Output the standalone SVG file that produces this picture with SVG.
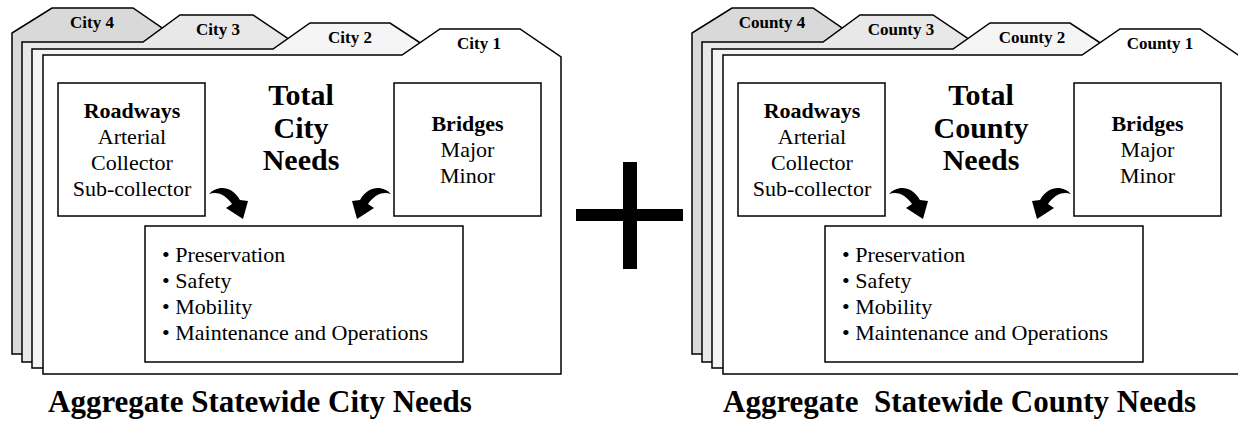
<svg xmlns="http://www.w3.org/2000/svg" width="1238" height="421" viewBox="0 0 1238 421">
  <defs>
    <style>
      .fold{stroke:#000;stroke-width:1.5;stroke-linejoin:miter}
      .f4{fill:#d9d9d9}
      .f3{fill:#e8e8e8}
      .f2{fill:#f5f5f5}
      .f1{fill:#ffffff}
      .box{fill:#fff;stroke:#000;stroke-width:1.5}
      .arrow{fill:#000}
      .plus{fill:#000}
      text{font-family:"Liberation Serif","Times New Roman",serif;fill:#000}
      .tab{font-size:17px;font-weight:bold;text-anchor:middle}
      .title{font-size:30px;font-weight:bold;text-anchor:middle}
      .head{font-size:22px;font-weight:bold;text-anchor:middle}
      .item{font-size:22px;text-anchor:middle}
      .list{font-size:22px}
      .caption{font-size:31px;font-weight:bold}
    </style>
    <!-- curved block arrows, drawn once and placed with <use> -->
    <path id="arrow-right-down" class="arrow" d="M209,194 C216,186 231,184 240,200 L248,201 L243,219 L226,208 L232,204 C226,196 219,191 209,194 Z"/>
    <path id="arrow-left-down" class="arrow" d="M391,194 C384,186 369,184 360,200 L352,201 L357,219 L374,208 L368,204 C374,196 381,191 391,194 Z"/>
  </defs>

  <rect width="1238" height="421" fill="#fff"/>

  <!-- ===== City stack ===== -->
  <g id="city-folder-4">
    <polygon class="fold f4" points="12,354 12,33 52,8 133,8 165,30 165,100 540,100 540,354"/>
    <text class="tab" x="92" y="28">City 4</text>
  </g>
  <g id="city-folder-3">
    <polygon class="fold f3" points="22,362 22,42 143,42 180,15 253,15 290,40 290,100 530,100 530,362"/>
    <text class="tab" x="218" y="35">City 3</text>
  </g>
  <g id="city-folder-2">
    <polygon class="fold f2" points="32,368 32,49 273,49 310,23 390,23 425,46 425,100 550,100 550,368"/>
    <text class="tab" x="350" y="43">City 2</text>
  </g>
  <g id="city-folder-1">
    <polygon class="fold f1" points="43,374 43,55 402,55 440,29 520,29 561,57 561,374"/>
    <text class="tab" x="479" y="49">City 1</text>
  </g>
  <g id="city-title">
    <text class="title" x="301" y="105">Total</text>
    <text class="title" x="301" y="137.5">City</text>
    <text class="title" x="301" y="170">Needs</text>
  </g>
  <g id="city-roadways">
    <rect class="box" x="58" y="83" width="147" height="133"/>
    <text class="head" x="132" y="118">Roadways</text>
    <text class="item" x="132" y="144">Arterial</text>
    <text class="item" x="132" y="170">Collector</text>
    <text class="item" x="132" y="196">Sub-collector</text>
  </g>
  <g id="city-bridges">
    <rect class="box" x="394" y="83" width="147" height="133"/>
    <text class="head" x="467.5" y="131">Bridges</text>
    <text class="item" x="467.5" y="157">Major</text>
    <text class="item" x="467.5" y="183">Minor</text>
  </g>
  <g id="city-needs">
    <rect class="box" x="145" y="226" width="318" height="136"/>
    <text class="list" x="162" y="262">• Preservation</text>
    <text class="list" x="162" y="288">• Safety</text>
    <text class="list" x="162" y="314">• Mobility</text>
    <text class="list" x="162" y="340">• Maintenance and Operations</text>
  </g>
  <g id="city-caption">
    <text class="caption" x="48" y="412">Aggregate Statewide City Needs</text>
  </g>

  <!-- ===== Plus sign ===== -->
  <g id="plus">
    <rect class="plus" x="623" y="162" width="14" height="107"/>
    <rect class="plus" x="576" y="209" width="107" height="12"/>
  </g>

  <!-- ===== County stack (same layout, shifted right) ===== -->
  <g id="county-folder-4" transform="translate(680,0)">
    <polygon class="fold f4" points="12,354 12,33 52,8 133,8 165,30 165,100 540,100 540,354"/>
    <text class="tab" x="92" y="28">County 4</text>
  </g>
  <g id="county-folder-3" transform="translate(680,0)">
    <polygon class="fold f3" points="22,362 22,42 143,42 180,15 253,15 290,40 290,100 530,100 530,362"/>
    <text class="tab" x="221" y="35">County 3</text>
  </g>
  <g id="county-folder-2" transform="translate(680,0)">
    <polygon class="fold f2" points="32,368 32,49 273,49 310,23 390,23 425,46 425,100 550,100 550,368"/>
    <text class="tab" x="352" y="43">County 2</text>
  </g>
  <g id="county-folder-1" transform="translate(680,0)">
    <polygon class="fold f1" points="43,374 43,55 402,55 440,29 520,29 561,57 561,374"/>
    <text class="tab" x="480" y="49">County 1</text>
  </g>
  <g id="county-title" transform="translate(680,0)">
    <text class="title" x="301" y="105">Total</text>
    <text class="title" x="301" y="137.5">County</text>
    <text class="title" x="301" y="170">Needs</text>
  </g>
  <g id="county-roadways" transform="translate(680,0)">
    <rect class="box" x="58" y="83" width="147" height="133"/>
    <text class="head" x="132" y="118">Roadways</text>
    <text class="item" x="132" y="144">Arterial</text>
    <text class="item" x="132" y="170">Collector</text>
    <text class="item" x="132" y="196">Sub-collector</text>
  </g>
  <g id="county-bridges" transform="translate(680,0)">
    <rect class="box" x="394" y="83" width="147" height="133"/>
    <text class="head" x="467.5" y="131">Bridges</text>
    <text class="item" x="467.5" y="157">Major</text>
    <text class="item" x="467.5" y="183">Minor</text>
  </g>
  <g id="county-needs" transform="translate(680,0)">
    <rect class="box" x="145" y="226" width="318" height="136"/>
    <text class="list" x="162" y="262">• Preservation</text>
    <text class="list" x="162" y="288">• Safety</text>
    <text class="list" x="162" y="314">• Mobility</text>
    <text class="list" x="162" y="340">• Maintenance and Operations</text>
  </g>
  <g id="county-caption">
    <text class="caption" x="723" y="412" xml:space="preserve">Aggregate  Statewide County Needs</text>
  </g>

  <!-- ===== Connectors: category boxes feed the needs list ===== -->
  <g id="connectors">
    <use href="#arrow-right-down"/>
    <use href="#arrow-left-down"/>
    <use href="#arrow-right-down" transform="translate(680,0)"/>
    <use href="#arrow-left-down" transform="translate(680,0)"/>
  </g>
</svg>
